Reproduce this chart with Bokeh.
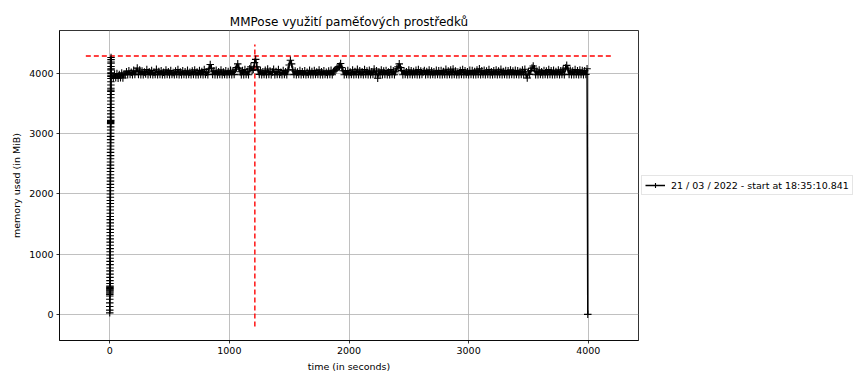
import numpy as np
from bokeh.plotting import figure
from bokeh.models import Range1d, FixedTicker, Legend, LegendItem, ColumnDataSource
from bokeh.embed import file_html
from bokeh.resources import INLINE

# ---------------- data ----------------
label = "21 / 03 / 2022 - start at 18:35:10.841"
title = "MMPose využití paměťových prostředků"

# start-up ramp, sampled every 0.12 s
ramp_step = 0.12
ramp_mem = [25, 70, 130, 190, 250, 305, 330, 352, 371, 390, 405, 418, 430, 444, 458, 470,
            512, 560, 615, 668, 722, 770, 826, 880, 931, 986, 1040, 1092, 1148, 1200, 1254,
            1306, 1360, 1412, 1468, 1520, 1574, 1626, 1680, 1734, 1786, 1840, 1892, 1946,
            2000, 2052, 2106, 2158, 2212, 2266, 2318, 2372, 2424, 2478, 2530, 2584, 2636,
            2690, 2742, 2796, 2850, 2902, 2956, 3008, 3062, 3114, 3168, 3186, 3205, 3222,
            3276, 3330, 3382, 3436, 3490, 3542, 3596, 3650, 3702, 3724, 3756, 3810, 3862,
            3916, 3950, 3972, 4010, 4060, 4115, 4170, 4230, 4265, 4190, 4080, 4000]

# steady state, sampled every 10 s from t = 30 s
plateau_start = 30
plateau_step = 10
plateau_mem = [
    3925, 3990, 3928, 4000, 3922, 3985, 3930, 4010, 3926, 3995, 3980, 4030, 3978, 4045, 3985, 4020, 3980, 4055, 3982, 4035,
    4090, 3985, 4060, 3980, 4040, 3978, 4025, 3990, 4065, 3980, 4030, 3985, 4050, 3978, 4020, 3982, 4070, 3980, 4035, 3985,
    4045, 3980, 4020, 3978, 4060, 3985, 4030, 3980, 4050, 3982, 4015, 3978, 4040, 3985, 4065, 3980, 4025, 3978, 4045, 3985,
    4030, 3980, 4055, 3982, 4020, 3978, 4040, 3985, 4060, 3980, 4025, 3978, 4050, 3985, 4035, 3980, 4065, 3982, 4020, 3980,
    4080, 4150, 4090, 3985, 4040, 3978, 4055, 3980, 4030, 3985, 4060, 3978, 4025, 3982, 4045, 3980, 4035, 3985, 4055, 3978,
    4040, 3982, 4070, 4100, 4160, 4090, 4030, 3980, 4050, 3978, 4065, 3985, 4030, 3980, 4080, 4110, 4050, 4070, 4180, 4235,
    4110, 4060, 3985, 4045, 3978, 4030, 3982, 4055, 3980, 4075, 3985, 4040, 3978, 4025, 4070, 3980, 4035, 3982, 4065, 3985,
    4020, 3978, 4050, 3985, 4030, 3980, 4060, 4140, 4220, 4160, 4060, 3982, 4040, 3978, 4025, 3985, 4050, 3980, 4030, 3982,
    4045, 3978, 4020, 3985, 4055, 3980, 4035, 3978, 4050, 3982, 4025, 3985, 4060, 3980, 4030, 3978, 4045, 3985, 4020, 3980,
    4040, 3982, 4055, 3978, 4030, 4045, 4060, 4090, 4110, 4120, 4165, 4100, 4045, 3980, 4030, 3985, 4050, 3978, 4025, 3982,
    4060, 3980, 4035, 3985, 4070, 3978, 4045, 3982, 4030, 3980, 4065, 3985, 4040, 3978, 4055, 3980, 4030, 3985, 4075, 3980,
    4045, 3920, 4030, 3982, 4060, 3978, 4040, 3985, 4050, 3980, 4025, 3978, 4065, 3985, 4045, 3980, 4030, 4080, 4110, 4160,
    4100, 4050, 3980, 4040, 3985, 4030, 3978, 4060, 3982, 4045, 3980, 4035, 3985, 4055, 3978, 4065, 3980, 4040, 3985, 4025,
    4050, 3978, 4035, 3985, 4060, 3980, 4040, 3982, 4030, 3978, 4055, 3985, 4045, 3980, 4050, 3978, 4035, 3985, 4070, 3980,
    4040, 3982, 4060, 3978, 4075, 3985, 4040, 3980, 4025, 3978, 4050, 3985, 4065, 3980, 4045, 3982, 4030, 3978, 4055, 3985,
    4050, 3980, 4035, 3978, 4060, 3985, 4080, 3980, 4045, 3982, 4055, 3978, 4040, 3985, 4065, 3980, 4030, 3978, 4045, 3985,
    4060, 3980, 4040, 3982, 4070, 3978, 4035, 3985, 4050, 3980, 4045, 3978, 4060, 3985, 4040, 3980, 4055, 3982, 4045, 3978,
    4035, 3985, 4060, 3980, 4070, 3978, 3925, 4030, 3985, 4050, 4090, 4125, 4080, 3980, 4040, 3978, 4060, 3985, 4030, 3980,
    4050, 3982, 4040, 3978, 4065, 3985, 4045, 3980, 4055, 3978, 4035, 3985, 4060, 3980, 4045, 3982, 4070, 3980, 4090, 4135,
    4075, 3985, 4055, 3980, 4040, 3978, 4065, 3985, 4045, 3980, 4060, 3982, 4050, 3978, 4045, 3985, 4080,
]

# process end
end_time = [3996]
end_mem = [0]

# reference markers (red dashed)
limit_mem = 4290
limit_time_span = [-200, 4200]
event_time = 1213
event_mem_span = [-200, 4480]

# ---------------- build series ----------------
ramp_t = [round(i * ramp_step, 2) for i in range(len(ramp_mem))]
plateau_t = [plateau_start + i * plateau_step for i in range(len(plateau_mem))]
t = ramp_t + plateau_t + end_time
mem = ramp_mem + plateau_mem + end_mem
src = ColumnDataSource(dict(t=t, mem=mem))

FONT = "DejaVu Sans"

p = figure(frame_width=579, frame_height=310, output_backend="svg", toolbar_location=None,
           x_range=Range1d(-420, 4420), y_range=Range1d(-434, 4714),
           min_border_left=59, min_border_top=30, min_border_bottom=31, min_border_right=0)

p.title.text = title
p.title.align = "center"
p.title.text_font = FONT
p.title.text_font_size = "12px"
p.title.text_font_style = "normal"
p.title.text_color = "black"
p.title.standoff = 4

p.background_fill_color = "white"
p.border_fill_color = "white"
p.outline_line_color = "black"
p.outline_line_width = 0.8

for ax in (p.xaxis[0], p.yaxis[0]):
    ax.axis_line_color = "black"
    ax.axis_line_width = 0.8
    ax.major_tick_line_color = "black"
    ax.major_tick_line_width = 0.8
    ax.major_tick_out = 3
    ax.major_tick_in = 0
    ax.minor_tick_line_color = None
    ax.major_label_text_font = FONT
    ax.major_label_text_font_size = "9.5px"
    ax.major_label_text_color = "black"
    ax.major_label_standoff = 3
    ax.axis_label_text_font = FONT
    ax.axis_label_text_font_size = "9.5px"
    ax.axis_label_text_font_style = "normal"
    ax.axis_label_text_color = "black"
    ax.axis_label_standoff = 4

p.xaxis[0].ticker = FixedTicker(ticks=[0, 1000, 2000, 3000, 4000])
p.yaxis[0].ticker = FixedTicker(ticks=[0, 1000, 2000, 3000, 4000])
p.xaxis[0].axis_label = "time (in seconds)"
p.yaxis[0].axis_label = "memory used (in MiB)"

p.xgrid.grid_line_color = "#b0b0b0"
p.ygrid.grid_line_color = "#b0b0b0"
p.xgrid.grid_line_width = 0.8
p.ygrid.grid_line_width = 0.8

# red dashed reference lines
p.segment(x0=[limit_time_span[0]], y0=[limit_mem], x1=[limit_time_span[1]], y1=[limit_mem],
          line_color="red", line_width=1.4, line_dash="5 3")
p.segment(x0=[event_time], y0=[event_mem_span[0]], x1=[event_time], y1=[event_mem_span[1]],
          line_color="red", line_width=1.4, line_dash="5 3")

lr = p.line("t", "mem", source=src, line_color="black", line_width=1.5)
sr = p.scatter("t", "mem", source=src, marker="cross", size=7.5, line_color="black", line_width=1.1)

legend = Legend(items=[LegendItem(label=label, renderers=[lr, sr])], location="center_left",
                label_text_font=FONT, label_text_font_size="9.5px", label_text_color="black",
                glyph_width=20, glyph_height=12, label_height=12, label_standoff=6,
                padding=3, margin=3, spacing=0,
                border_line_color="#cccccc", border_line_width=1,
                background_fill_color="white", background_fill_alpha=0.8)
p.add_layout(legend, "right")

open("out.html", "w").write(file_html(p, INLINE))
